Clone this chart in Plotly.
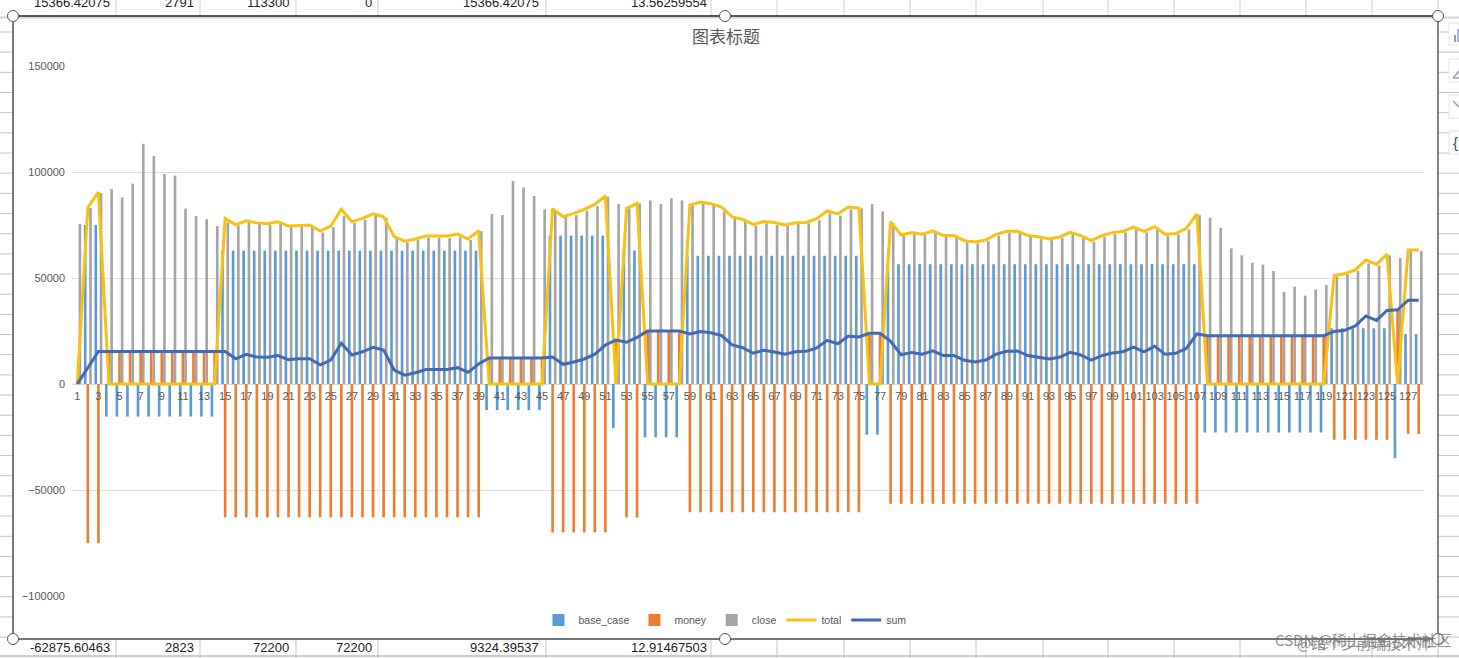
import plotly.graph_objects as go

# values
categories = list(range(1, 129))

base_case = [0, 75000, 75000,
    -15366, -15366, -15366, -15366, -15366, -15366, -15366, -15366, -15366, -15366, -15366,
    62875, 62875, 62875, 62875, 62875, 62875, 62875, 62875, 62875, 62875, 62875, 62875, 62875,
    62875, 62875, 62875, 62875, 62875, 62875, 62875, 62875, 62875, 62875, 62875, 62875,
    -12300, -12300, -12300, -12300, -12300, -12300,
    70000, 70000, 70000, 70000, 70000, 70000,
    -20800, 63000, 63000, -25100, -25100, -25100, -25100,
    60500, 60500, 60500, 60500, 60500, 60500, 60500, 60500, 60500, 60500, 60500, 60500, 60500,
    60500, 60500, 60500, 60500,
    -23900, -23900,
    56500, 56500, 56500, 56500, 56500, 56500, 56500, 56500, 56500, 56500, 56500, 56500, 56500,
    56500, 56500, 56500, 56500, 56500, 56500, 56500, 56500, 56500, 56500, 56500, 56500, 56500,
    56500, 56500, 56500, 56500,
    -22900, -22900, -22900, -22900, -22900, -22900, -22900, -22900, -22900, -22900, -22900, -22900,
    26300, 26300, 26300, 26300, 26300, 26300, -35000, 23600, 23600]

money = [0, -75000, -75000,
    15366, 15366, 15366, 15366, 15366, 15366, 15366, 15366, 15366, 15366, 15366,
    -62875, -62875, -62875, -62875, -62875, -62875, -62875, -62875, -62875, -62875, -62875, -62875, -62875,
    -62875, -62875, -62875, -62875, -62875, -62875, -62875, -62875, -62875, -62875, -62875, -62875,
    12300, 12300, 12300, 12300, 12300, 12300,
    -70000, -70000, -70000, -70000, -70000, -70000,
    20800, -63000, -63000, 25100, 25100, 25100, 25100,
    -60500, -60500, -60500, -60500, -60500, -60500, -60500, -60500, -60500, -60500, -60500, -60500, -60500,
    -60500, -60500, -60500, -60500,
    23900, 23900,
    -56500, -56500, -56500, -56500, -56500, -56500, -56500, -56500, -56500, -56500, -56500, -56500, -56500,
    -56500, -56500, -56500, -56500, -56500, -56500, -56500, -56500, -56500, -56500, -56500, -56500, -56500,
    -56500, -56500, -56500, -56500,
    22900, 22900, 22900, 22900, 22900, 22900, 22900, 22900, 22900, 22900, 22900, 22900,
    -26300, -26300, -26300, -26300, -26300, -26300, 35000, -23600, -23600]

close = [75500, 83000, 90000, 92000, 88000, 94500, 113300, 107500, 99000, 98300, 82700, 79300, 77700, 74500,
    76200, 74800, 76800, 75500, 75100, 76100, 74100, 74500, 74600, 71500, 74000, 79200, 76000, 77600,
    79800, 78500, 68500, 66800, 67900, 68900, 68900, 68800, 69200, 67900, 72100,
    80200, 79700, 95700, 92700, 88700, 82400, 81300, 78900, 79700, 81700, 83900, 88300,
    84900, 82800, 85200, 86600, 84900, 87600, 86600, 84400, 85200, 84400, 81300,
    78100, 76600, 74700, 75800, 75000, 74500, 75500, 75800, 77300, 80500, 79400, 82400, 82800,
    84900, 81400, 75800, 70000, 71000, 70300, 71400, 69500, 69200, 66800, 66300, 67400, 70000,
    71500, 71000, 69500, 68700, 67900, 69000, 70700, 68700, 67100, 69500, 70700, 71500, 72900,
    71500, 72600, 70000, 70600, 72900, 79700, 78400, 73700, 64000, 60700, 57200, 56300, 53300,
    43400, 45900, 41700, 44600, 46700, 50600, 51700, 53300, 56900, 55800, 60700, 59400, 62700, 62700]

total = [0, 83300, 90500, 0, 0, 0, 0, 0, 0, 0, 0, 0, 0, 0,
    78000, 75100, 77000, 76000, 75600, 76500, 74500, 74800, 75000, 72100, 74500, 82400, 76500, 78100,
    80300, 78900, 69500, 67400, 68400, 69800, 69800, 69800, 70700, 68400, 72300,
    0, 0, 0, 0, 0, 0, 82700, 78900, 80500, 82400, 84700, 88700,
    0, 82800, 85200, 0, 0, 0, 0, 84400, 85800, 85000, 83500,
    78800, 77600, 75300, 76600, 76200, 75000, 76100, 76200, 78000, 81600, 80200, 83500, 83000,
    0, 0, 76600, 70300, 71500, 70700, 72200, 70000, 70000, 67600, 67000, 67900, 70600,
    72000, 72000, 70100, 69500, 68400, 69300, 71500, 70000, 67600, 70000, 71400, 72000, 74000,
    72000, 74200, 70600, 71000, 73400, 80200, 0, 0, 0, 0, 0, 0, 0,
    0, 0, 0, 0, 0, 51200, 52000, 53800, 58500, 56400, 61300, 0, 63200, 63200]

sum_line = [0, 7500, 15366, 15366, 15366, 15366, 15366, 15366, 15366, 15366, 15366, 15366, 15366, 15366,
    15366, 11900, 14000, 12700, 12600, 13400, 11500, 11900, 11900, 9000, 11300, 19200, 13700, 15200,
    17300, 16000, 6600, 4200, 5300, 6800, 6800, 6800, 7700, 5500, 9400,
    12300, 12300, 12300, 12300, 12300, 12300, 12700, 9300, 10400, 11800, 14100, 18400,
    20700, 19700, 22000, 25000, 25000, 25000, 25000, 23600, 24800, 24200, 22800,
    18400, 17100, 14500, 15900, 15100, 14000, 15200, 15400, 17000, 20600, 19000, 22600, 22200,
    23900, 23900, 20100, 13800, 14900, 14100, 15600, 13400, 13400, 11200, 10400, 11300, 14100,
    15400, 15600, 13400, 12700, 11800, 12600, 14900, 13700, 11300, 13400, 14600, 15200, 17400,
    15200, 17800, 14000, 14500, 16800, 23600, 22800, 22800, 22800, 22800, 22800, 22800, 22800,
    22800, 22800, 22800, 22800, 22800, 24800, 25300, 27400, 32100, 30000, 34700, 35000, 39500, 39500]

top_row = ["15366.42075", "2791", "113300", "0", "15366.42075", "13.56259554"]
bottom_row = ["-62875.60463", "2823", "72200", "72200", "9324.39537", "12.91467503"]

W, H = 1459, 658
ML, MR, MT, MB = 72, 35, 66, 62
y_min, y_max = -100000, 150000
FONT = "Liberation Sans, Noto Sans CJK SC"


# screenshot pixels -> paper coords, for the spreadsheet stuff around the chart
def px(x):
    return (x - ML) / (W - ML - MR)


def py(y):
    return (H - MB - y) / (H - MT - MB)


def line(x0, y0, x1, y1, color, width=1):
    return dict(type="line", xref="paper", yref="paper", layer="below",
                x0=px(x0), y0=py(y0), x1=px(x1), y1=py(y1),
                line=dict(color=color, width=width))


shapes = []
# sheet rows, only visible left and right of the chart
for k in range(31):
    y = 32 + 20.17 * k
    shapes.append(line(0, y, 13, y, "#c4c4c4"))
    shapes.append(line(1438, y, W, y, "#c4c4c4"))
shapes.append(line(0, 17.5, W, 17.5, "#d4d4d4", 2))
shapes.append(line(0, 656, W, 656, "#bdbdbd", 1.5))
# sheet columns in the rows above/below the chart
col_x = [116, 200, 296, 378, 546, 711, 777, 844, 910, 976, 1043, 1108, 1174, 1240, 1306, 1372, 1438]
for x in col_x:
    shapes.append(line(x, 0, x, 16, "#cfcfcf"))
    shapes.append(line(x, 639, x, H, "#c4c4c4"))

# side buttons
for y0, y1 in [(23, 45), (59, 82), (95, 118), (131, 154)]:
    shapes.append(dict(type="rect", xref="paper", yref="paper", layer="below",
                       x0=px(1449), x1=px(1470), y0=py(y0), y1=py(y1),
                       fillcolor="white", line=dict(color="#e4e4e4", width=1)))
shapes.append(line(1455, 42, 1455, 35, "#8d9bc9", 2))
shapes.append(line(1458, 42, 1458, 29, "#8d9bc9", 1.5))
shapes.append(line(1453, 78, 1459, 71, "#9aa0b5", 1.5))
shapes.append(line(1453, 78, 1459, 78, "#9aa0b5", 1.5))
shapes.append(line(1453, 101, 1459, 107, "#9aa0b5", 1.5))

# chart frame
shapes.append(line(13, 16, 1438, 16, "#1f1f1f", 1.5))
shapes.append(line(13, 639, 1438, 639, "#4a4a4a", 1.5))
shapes.append(line(13, 16, 13, 639, "#7a7a7a", 2))
shapes.append(line(1438, 16, 1438, 639, "#5c5c5c", 1.5))

# selection handles
for hx in (13, 725, 1438):
    for hy in (16, 639):
        shapes.append(dict(type="circle", xref="paper", yref="paper", layer="above",
                           x0=px(hx - 5.5), x1=px(hx + 5.5), y0=py(hy - 5.5), y1=py(hy + 5.5),
                           fillcolor="white", line=dict(color="#555555", width=1)))

annotations = []
right_edges = [112, 196, 291, 374, 541, 709]
for txt, x in zip(top_row, right_edges):
    annotations.append(dict(text=txt, xref="paper", yref="paper", x=px(x), y=py(3), showarrow=False,
                            xanchor="right", yanchor="middle",
                            font=dict(family=FONT, size=13, color="#222222")))
for txt, x in zip(bottom_row, right_edges):
    annotations.append(dict(text=txt, xref="paper", yref="paper", x=px(x), y=py(647), showarrow=False,
                            xanchor="right", yanchor="middle",
                            font=dict(family=FONT, size=13, color="#222222")))
annotations.append(dict(text="{", xref="paper", yref="paper", x=px(1456), y=py(142), showarrow=False,
                        xanchor="center", yanchor="middle",
                        font=dict(family=FONT, size=15, color="#444444")))
# the two overlapping watermarks
annotations.append(dict(text="CSDN @稀土掘金技术社区", xref="paper", yref="paper", x=px(1273), y=py(639),
                        showarrow=False, xanchor="left", yanchor="middle",
                        font=dict(family="Noto Sans CJK SC", size=15, color="rgba(110,110,110,0.75)")))
annotations.append(dict(text="@踏个步前端技术师", xref="paper", yref="paper", x=px(1295), y=py(642),
                        showarrow=False, xanchor="left", yanchor="middle",
                        font=dict(family="Noto Sans CJK SC", size=15, color="rgba(110,110,110,0.75)")))

fig = go.Figure()
fig.add_trace(go.Bar(x=categories, y=base_case, name="base_case", marker=dict(color="#5b9bd5", line_width=0)))
fig.add_trace(go.Bar(x=categories, y=money, name="money", marker=dict(color="#ed7d31", line_width=0)))
fig.add_trace(go.Bar(x=categories, y=close, name="close", marker=dict(color="#a5a5a5", line_width=0)))
fig.add_trace(go.Scatter(x=categories, y=total, name="total", mode="lines",
                         line=dict(color="#f6c214", width=3)))
fig.add_trace(go.Scatter(x=categories, y=sum_line, name="sum", mode="lines",
                         line=dict(color="#4469b4", width=3)))

fig.update_layout(
    width=W, height=H,
    margin=dict(l=ML, r=MR, t=MT, b=MB),
    autosize=False,
    paper_bgcolor="white", plot_bgcolor="white",
    barmode="group", bargap=0.25, bargroupgap=0,
    font=dict(family=FONT, size=11, color="#595959"),
    title=dict(text="图表标题", x=px(726), xref="paper", xanchor="center", y=1 - 37 / H, yanchor="middle",
               font=dict(family="Noto Sans CJK SC", size=17, color="#595959")),
    xaxis=dict(range=[0.5, 128.5], tick0=1, dtick=2, tickangle=0, anchor="free",
               position=(0 - y_min) / (y_max - y_min), showgrid=False, zeroline=False,
               showline=False, ticks="", ticklabelstandoff=4,
               tickfont=dict(size=11, color="#595959")),
    yaxis=dict(range=[y_min, y_max], dtick=50000, gridcolor="#dedede", gridwidth=1,
               zeroline=True, zerolinecolor="#d9d9d9", zerolinewidth=1,
               showline=False, ticks="", tickformat="d", ticklabelstandoff=6,
               tickfont=dict(size=11, color="#595959")),
    legend=dict(orientation="h", x=px(725), xanchor="center", y=py(620), yanchor="middle",
                font=dict(size=10.5, color="#595959"), bgcolor="rgba(0,0,0,0)", traceorder="normal"),
    shapes=shapes,
    annotations=annotations,
)

fig.write_html("out.html", config=dict(displayModeBar=False),
               post_script="document.body.style.margin='0';document.body.style.overflow='hidden';")
